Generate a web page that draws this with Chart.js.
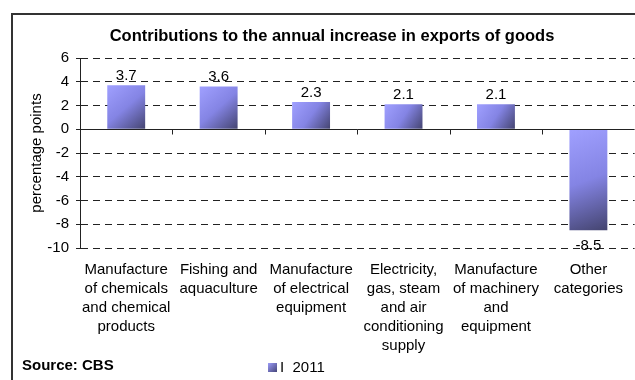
<!DOCTYPE html>
<html>
<head>
<meta charset="utf-8">
<script src="https://cdn.jsdelivr.net/npm/chart.js@4/dist/chart.umd.min.js"></script>
<style>
  html, body { margin: 0; padding: 0; background: #fff; overflow: hidden; }
  #wrap { position: relative; width: 635px; height: 380px; }
  #frame { position: absolute; left: 11px; top: 13px; width: 700px; height: 420px; border: 2px solid #333; box-sizing: border-box; }
  #exports-chart { position: absolute; left: 0; top: 0; }
</style>
</head>
<body>
<div id="wrap">
  <div id="frame"></div>
  <canvas id="exports-chart" width="635" height="380"></canvas>
</div>
<script>
// categories (each one split into its display lines)
const categories = [
    ['Manufacture', 'of chemicals', 'and chemical', 'products'],
    ['Fishing and', 'aquaculture'],
    ['Manufacture', 'of electrical', 'equipment'],
    ['Electricity,', 'gas, steam', 'and air', 'conditioning', 'supply'],
    ['Manufacture', 'of machinery', 'and', 'equipment'],
    ['Other', 'categories']
];
const contributions = [3.7, 3.6, 2.3, 2.1, 2.1, -8.5];
const seriesName = 'I  2011';
const yTicks = [6, 4, 2, 0, -2, -4, -6, -8, -10];
const chartTitle = 'Contributions to the annual increase in exports of goods';

const FONT = 'Arial, "Liberation Sans", sans-serif';

// diagonal shading for each bar: light top-left, dark bottom-right
function barGradient(context) {
    const chart = context.chart;
    const xs = chart.scales.x, ys = chart.scales.y;
    const fallback = '#7a7ad8';
    if (!xs || !ys || context.dataIndex === undefined) return fallback;
    const v = context.raw;
    const cx = xs.getPixelForValue(context.dataIndex);
    const half = xs.width / categories.length * 0.41 / 2;
    const yTop = ys.getPixelForValue(Math.max(v, 0));
    const yBot = ys.getPixelForValue(Math.min(v, 0));
    if (![cx, half, yTop, yBot].every(Number.isFinite)) return fallback;
    const g = chart.ctx.createLinearGradient(cx - half, yTop, cx + half, yBot);
    g.addColorStop(0, '#a0a0ff');
    g.addColorStop(0.5, '#8484e4');
    g.addColorStop(1, '#44446f');
    return g;
}

// title, zero line, category tick marks, value labels, source note and legend
const extrasPlugin = {
    id: 'extras',
    afterDatasetsDraw(chart) {
        const ctx = chart.ctx;
        const xs = chart.scales.x, ys = chart.scales.y;
        const area = chart.chartArea;
        const y0 = Math.round(ys.getPixelForValue(0)) + 0.5;

        ctx.save();
        ctx.fillStyle = '#000';
        ctx.font = 'bold 16.5px ' + FONT;
        ctx.textAlign = 'center';
        ctx.textBaseline = 'middle';
        ctx.fillText(chartTitle, 332, 36);

        ctx.strokeStyle = '#222';
        ctx.lineWidth = 1;
        ctx.setLineDash([]);
        ctx.beginPath();
        ctx.moveTo(area.left, y0);
        ctx.lineTo(area.right, y0);
        const step = xs.width / categories.length;
        for (let i = 1; i < categories.length; i++) {
            const x = Math.round(area.left + step * i) + 0.5;
            ctx.moveTo(x, y0);
            ctx.lineTo(x, y0 + 5);
        }
        ctx.stroke();

        // value labels
        const meta = chart.getDatasetMeta(0);
        ctx.font = '15px ' + FONT;
        meta.data.forEach((bar, i) => {
            const v = contributions[i];
            if (v >= 0) {
                ctx.textBaseline = 'bottom';
                ctx.fillText(v.toFixed(1), bar.x, bar.y - 2);
            } else {
                ctx.textBaseline = 'top';
                ctx.fillText(v.toFixed(1), bar.x, bar.y + 8);
            }
        });

        // source note
        ctx.textAlign = 'left';
        ctx.textBaseline = 'middle';
        ctx.font = 'bold 15px ' + FONT;
        ctx.fillText('Source: CBS', 22, 366);

        // legend
        const lg = ctx.createLinearGradient(268, 362, 277, 371);
        lg.addColorStop(0, '#a0a0ff');
        lg.addColorStop(1, '#4a4a80');
        ctx.fillStyle = lg;
        ctx.fillRect(268, 363, 9, 9);
        ctx.fillStyle = '#000';
        ctx.font = '15px ' + FONT;
        ctx.fillText(seriesName, 280, 368);
        ctx.restore();
    }
};

const ctx = document.getElementById('exports-chart').getContext('2d');
new Chart(ctx, {
    type: 'bar',
    data: {
        labels: categories,
        datasets: [{
            label: seriesName,
            data: contributions,
            backgroundColor: barGradient,
            borderWidth: 0,
            categoryPercentage: 1,
            barPercentage: 0.41
        }]
    },
    options: {
        responsive: false,
        animation: false,
        devicePixelRatio: 1,
        layout: { padding: { left: 0, right: 0, top: 58, bottom: 26 } },
        plugins: {
            legend: { display: false },
            tooltip: { enabled: false },
            title: { display: false }
        },
        scales: {
            x: {
                afterFit(scale) { scale.height = 106; },
                grid: { display: false, drawTicks: false, tickLength: 0 },
                border: { display: false },
                ticks: {
                    color: '#000',
                    font: { family: FONT, size: 15, lineHeight: 1.27 },
                    padding: 12,
                    maxRotation: 0,
                    autoSkip: false
                }
            },
            y: {
                min: -10,
                max: 6,
                afterFit(scale) { scale.width = 80; },
                afterBuildTicks(scale) { scale.ticks = yTicks.map(v => ({ value: v })); },
                grid: {
                    color: ctx => ctx.tick && ctx.tick.value === 0 ? 'rgba(0,0,0,0)' : '#222',
                    tickColor: '#222',
                    lineWidth: 1,
                    tickLength: 4
                },
                border: { display: true, color: '#222', width: 1, dash: [7, 5] },
                ticks: {
                    color: '#000',
                    font: { family: FONT, size: 15 },
                    padding: 7
                },
                title: {
                    display: true,
                    text: 'percentage points',
                    color: '#000',
                    font: { family: FONT, size: 15, lineHeight: 1.2 },
                    padding: { top: 28, bottom: 0 }
                }
            }
        }
    },
    plugins: [extrasPlugin]
});
</script>
</body>
</html>
